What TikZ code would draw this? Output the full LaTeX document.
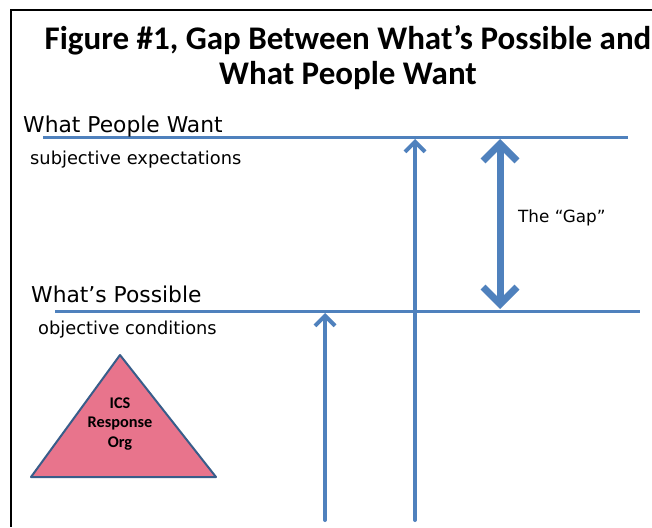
\documentclass[tikz,border=0pt]{standalone}
\usepackage{fontspec}
\setmainfont{DejaVu Sans}
\newfontfamily\titlefont{Carlito}
\usetikzlibrary{arrows.meta}

\definecolor{lineblue}{RGB}{79,129,189}
\definecolor{trifill}{RGB}{232,116,140}
\definecolor{triedge}{RGB}{56,93,138}

\tikzset{
  title/.style={font=\titlefont\bfseries\fontsize{33}{35}\selectfont, align=center, inner sep=0pt},
  label/.style={font=\fontsize{21.8}{25}\selectfont, anchor=base west, inner sep=0pt},
  sublabel/.style={font=\fontsize{17.8}{20}\selectfont, anchor=base west, inner sep=0pt},
  level/.style={draw=lineblue, line width=3pt},
  rise/.style={draw=lineblue, line width=4pt, line cap=round,
    -{Straight Barb[length=10pt, width=20pt, line width=4pt]}},
  gap/.style={draw=lineblue, line width=7pt,
    {Straight Barb[length=17pt, width=34pt, line width=7pt]}-{Straight Barb[length=17pt, width=34pt, line width=7pt]}},
  org/.style={draw=triedge, fill=trifill, line width=2pt, line join=round},
}

\begin{document}
\begin{tikzpicture}[x=1pt, y=-1pt]
  \useasboundingbox (0,0) rectangle (652,527);
  \fill[white] (0,0) rectangle (652,527);

  % frame
  \draw[line width=1.6pt] (652,10) -- (11,10) -- (11,527);

  % title
  \node[title] (title) at (348,58) {Figure \#1, Gap Between What’s Possible and\\What People Want};

  % level lines
  \coordinate (wantL) at (43,137);
  \coordinate (wantR) at (628,137);
  \coordinate (possL) at (55,311);
  \coordinate (possR) at (640,311);
  \draw[level] (wantL) -- (wantR);
  \draw[level] (possL) -- (possR);

  % labels
  \node[label] (want) at (23,132) {What People Want};
  \node[sublabel] (subj) at (30,164) {subjective expectations};
  \node[label] (poss) at (31,302) {What’s Possible};
  \node[sublabel] (obj) at (38,334) {objective conditions};
  \node[font=\fontsize{16.8}{20}\selectfont, anchor=west, inner sep=0pt] (gaplabel) at (518,218) {The “Gap”};

  % arrows
  \coordinate (a1s) at (325,520);
  \coordinate (a1e) at (325,313);
  \coordinate (a2s) at (415,520);
  \coordinate (a2e) at (415,139);
  \coordinate (g1) at (500,139);
  \coordinate (g2) at (500,309);
  \draw[rise] (a1s) -- (a1e);
  \draw[rise] (a2s) -- (a2e);
  \draw[gap] (g1) -- (g2);

  % response organisation triangle
  \coordinate (apex) at (120,355);
  \coordinate (baseL) at (31,477);
  \coordinate (baseR) at (216,477);
  \draw[org] (apex) -- (baseR) -- (baseL) -- cycle;
  \node[font=\titlefont\bfseries\fontsize{16.3}{19.5}\selectfont, align=center, inner sep=0pt] (ics) at (120,424) {ICS\\Response\\Org};
\end{tikzpicture}
\end{document}
